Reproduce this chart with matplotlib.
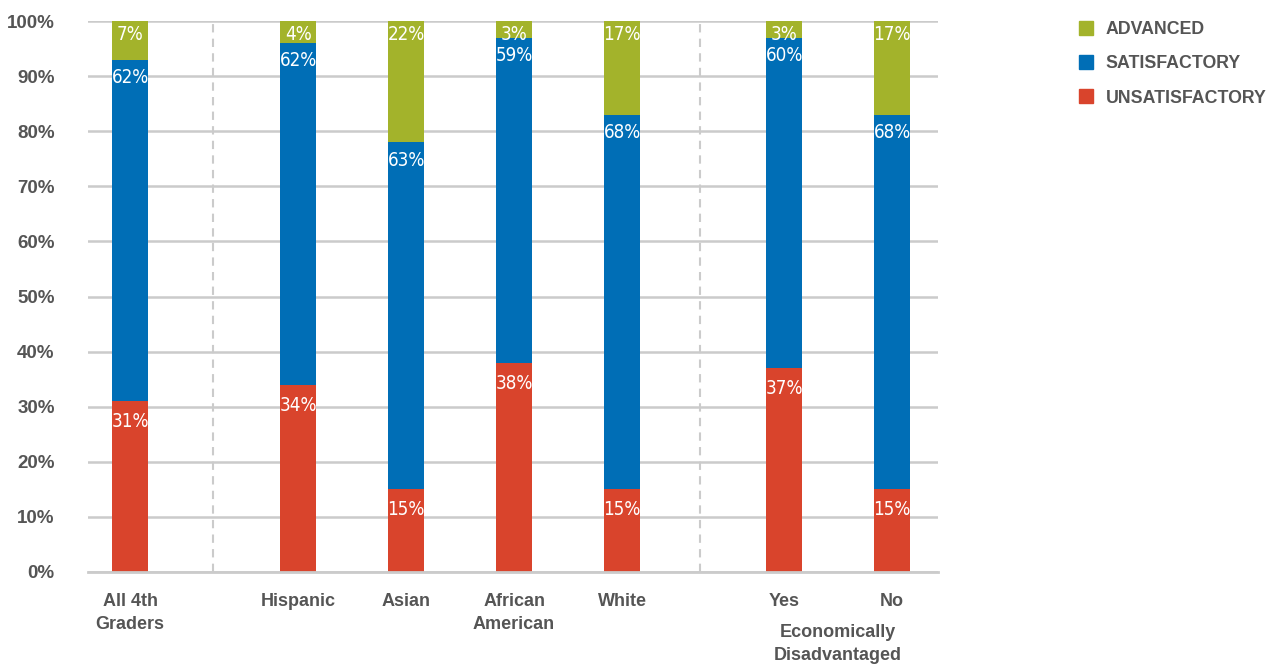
import matplotlib.pyplot as plt
from matplotlib.lines import Line2D

groups = ["All 4th\nGraders", "Hispanic", "Asian", "African\nAmerican", "White", "Yes", "No"]
unsatisfactory = [31, 34, 15, 38, 15, 37, 15]
satisfactory = [62, 62, 63, 59, 68, 60, 68]
advanced = [7, 4, 22, 3, 17, 3, 17]
yticks = [0, 10, 20, 30, 40, 50, 60, 70, 80, 90, 100]

# bar slots, with wider gaps around the group separators
xpos = [0, 1.556, 2.556, 3.556, 4.556, 6.056, 7.056]
separators = [0.769, 5.278]

RED = "#d9442c"
BLUE = "#006eb6"
GREEN = "#a3b32b"
GRID = "#cbcbcb"
TXT = "#555555"

plt.rcParams['font.family'] = ['Liberation Sans', 'DejaVu Sans']

fig = plt.figure(figsize=(12.75, 6.64), dpi=100)
ax = fig.add_axes([88/1275, 1 - 572/664, (938-88)/1275, (572-21)/664])

w = 0.333
bottoms2 = [a + b for a, b in zip(unsatisfactory, satisfactory)]
b1 = ax.bar(xpos, unsatisfactory, w, color=RED, zorder=3)
b2 = ax.bar(xpos, satisfactory, w, bottom=unsatisfactory, color=BLUE, zorder=3)
b3 = ax.bar(xpos, advanced, w, bottom=bottoms2, color=GREEN, zorder=3)

lab_font = dict(family='DejaVu Sans', stretch='condensed', fontsize=13.5,
                color="white", ha="center", va="top", zorder=4)
for x, u, s, a in zip(xpos, unsatisfactory, satisfactory, advanced):
    ax.annotate(f"{u}%", (x, u), xytext=(0, -8), textcoords="offset points", **lab_font)
    ax.annotate(f"{s}%", (x, u + s), xytext=(0, -6), textcoords="offset points", **lab_font)
    ax.annotate(f"{a}%", (x, u + s + a), xytext=(0, -3), textcoords="offset points", **lab_font)

ax.set_ylim(0, 100)
ax.set_xlim(-0.389, 7.481)
ax.set_yticks(yticks)
ax.set_yticklabels([f"{t}%" for t in yticks], fontsize=13.5, fontweight="bold", color=TXT)
ax.tick_params(axis="y", length=0, pad=24)
for t in ax.get_yticklabels():
    t.set_horizontalalignment("right")
ax.set_xticks(xpos)
ax.set_xticklabels(groups, fontsize=13, fontweight="bold", color=TXT, linespacing=1.45)
ax.tick_params(axis="x", length=0, pad=15)

ax.grid(axis="y", color=GRID, lw=1.8, zorder=0)
for sp in ax.spines.values():
    sp.set_visible(False)
ax.axhline(0, color=GRID, lw=2, zorder=5, clip_on=False)
for sx in separators:
    ax.axvline(sx, color=GRID, lw=1.5, ls=(0, (4, 3)), zorder=1)

ax.text((xpos[5] + xpos[6]) / 2, -13.0, "Economically\nDisadvantaged", ha="center", va="center",
        fontsize=13, fontweight="bold", color=TXT, linespacing=1.45)

handles = [Line2D([], [], ls="", marker="s", markersize=10, color=c) for c in (GREEN, BLUE, RED)]
leg = fig.legend(handles, ["ADVANCED", "SATISFACTORY", "UNSATISFACTORY"],
                 loc="upper left", bbox_to_anchor=(1070/1275, 1 - 14/664), frameon=False,
                 prop=dict(size=12.8, weight="bold"), labelspacing=0.97,
                 handletextpad=0.6, handlelength=1.0, borderaxespad=0)
for t in leg.get_texts():
    t.set_color(TXT)

fig.savefig("out.png", dpi=100)
